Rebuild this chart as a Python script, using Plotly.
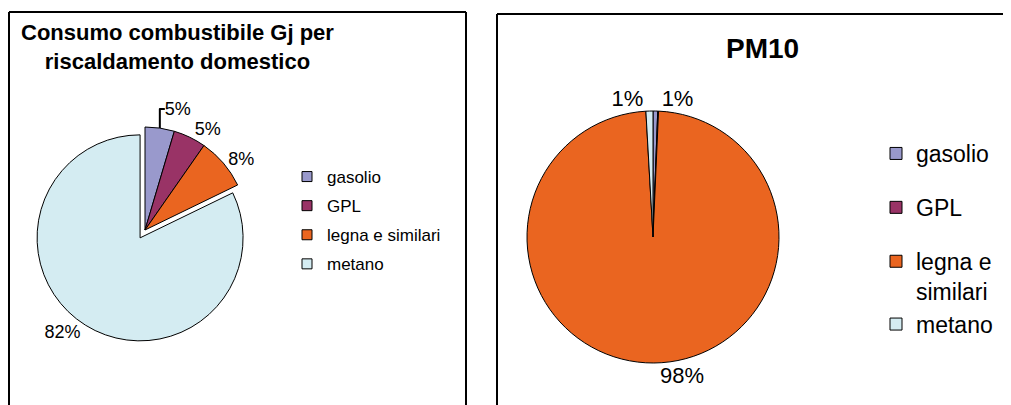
import plotly.graph_objects as go

# ---- data ----
categories = ["gasolio", "GPL", "legna e similari", "metano"]
legend2_labels = ["gasolio", "GPL", "legna e<br>similari", "metano"]
consumo_values = [4.6, 5.1, 8.1, 82.2]      # % Gj per riscaldamento domestico
pm10_values = [0.6, 0.1, 98.4, 0.9]         # % PM10
colors = ["#9999CC", "#993366", "#EA6520", "#D4ECF2"]
consumo_pull = [0, 0, 0, 0.09]
pm10_text = ["%{percent:.0%}", "", "%{percent:.0%}", "%{percent:.0%}"]

W, H = 1011, 405
PAGE_MARGIN = 8   # default <body> margin of the html page
FONT = "Arial, Liberation Sans, sans-serif"

def px(x):
    return (x - PAGE_MARGIN) / W

def py(y):
    return 1 - (y - PAGE_MARGIN) / H

def dom(cx, cy, half):
    return dict(x=[px(cx - half), px(cx + half)], y=[py(cy + half), py(cy - half)])

fig = go.Figure()

# left pie (unpulled center ~ (145,230), r ~103), metano exploded
fig.add_trace(go.Pie(
    labels=categories, values=consumo_values, sort=False, direction="clockwise",
    rotation=0, pull=consumo_pull,
    marker=dict(colors=colors, line=dict(color="black", width=1)),
    texttemplate="%{percent:.0%}", textposition="outside",
    outsidetextfont=dict(family=FONT, size=18, color="black"),
    domain=dom(145, 230, 103 * (1 + max(consumo_pull))),
    showlegend=False, hoverinfo="label+percent",
))

# right pie (center ~ (653,237), r ~126)
fig.add_trace(go.Pie(
    labels=categories, values=pm10_values, sort=False, direction="clockwise",
    rotation=0,
    marker=dict(colors=colors, line=dict(color="black", width=1)),
    texttemplate=pm10_text, textposition="outside",
    outsidetextfont=dict(family=FONT, size=22, color="black"),
    domain=dom(653, 237, 126),
    showlegend=False, hoverinfo="label+percent",
))

# legend entries (one per category) for each panel
for i, (lab, col) in enumerate(zip(categories, colors)):
    fig.add_trace(go.Scatter(
        x=[None], y=[None], mode="markers", name=lab,
        marker=dict(symbol="square", size=10, color=col, line=dict(color="black", width=1)),
        legend="legend", legendgroup="a%d" % i, showlegend=True,
    ))
groups2 = ["b0", "b1", "b2", "b2"]
for i, (lab, col) in enumerate(zip(legend2_labels, colors)):
    fig.add_trace(go.Scatter(
        x=[None], y=[None], mode="markers", name=lab,
        marker=dict(symbol="square", size=12, color=col, line=dict(color="black", width=1)),
        legend="legend2", legendgroup=groups2[i], showlegend=True,
    ))

def frame_line(x0, y0, x1, y1):
    return dict(type="line", xref="paper", yref="paper", x0=x0, y0=y0, x1=x1, y1=y1,
                line=dict(color="black", width=2), layer="below")

frames = [
    frame_line(px(9), 0, px(9), py(12)),
    frame_line(px(9), py(12), px(466), py(12)),
    frame_line(px(466), 0, px(466), py(12)),
    frame_line(px(497), 0, px(497), py(14)),
    frame_line(px(497), py(14), 1, py(14)),
]

fig.update_layout(
    width=W, height=H, margin=dict(l=0, r=0, t=0, b=0),
    paper_bgcolor="white", plot_bgcolor="white",
    font=dict(family=FONT, color="black"),
    xaxis=dict(visible=False), yaxis=dict(visible=False),
    legend=dict(x=px(287), y=py(159), xanchor="left", yanchor="top",
                font=dict(family=FONT, size=17, color="black"),
                tracegroupgap=4, bgcolor="rgba(0,0,0,0)", traceorder="grouped"),
    legend2=dict(x=px(876), y=py(132), xanchor="left", yanchor="top",
                 font=dict(family=FONT, size=23, color="black"),
                 tracegroupgap=21, valign="top", bgcolor="rgba(0,0,0,0)", traceorder="grouped"),
    shapes=frames,
    annotations=[
        dict(text="<b>Consumo combustibile Gj per<br>riscaldamento domestico</b>", xref="paper", yref="paper",
             x=px(177), y=py(47), xanchor="center", yanchor="middle", showarrow=False,
             font=dict(family=FONT, size=22, color="black"), align="center"),
        dict(text="<b>PM10</b>", xref="paper", yref="paper",
             x=px(762), y=py(49), xanchor="center", yanchor="middle", showarrow=False,
             font=dict(family=FONT, size=28, color="black")),
    ],
)

fig.write_html("out.html", config={"displayModeBar": False})
